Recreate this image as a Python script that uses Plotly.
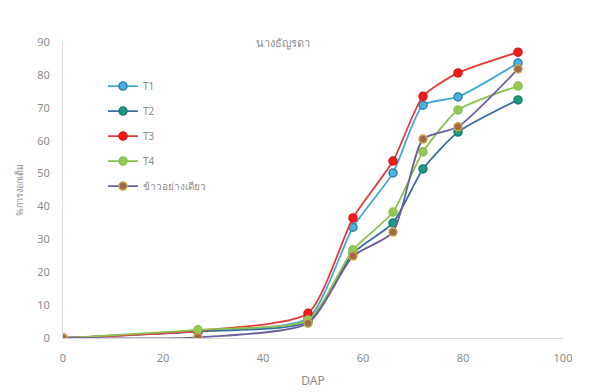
import plotly.graph_objects as go

dap = [0, 27, 49, 58, 66, 72, 79, 91]
series_names = ["T1", "T2", "T3", "T4", "ข้าวอย่างเดียว"]
t1 = [0, 2.0, 6.0, 33.7, 50.2, 70.8, 73.3, 83.6]
t2 = [0, 2.0, 5.0, 25.8, 35.0, 51.4, 62.6, 72.4]
t3 = [0, 2.2, 7.5, 36.5, 53.8, 73.5, 80.6, 86.9]
t4 = [0, 2.5, 5.5, 26.8, 38.3, 56.6, 69.3, 76.6]
ctrl = [0, 0.2, 4.5, 24.9, 32.2, 60.5, 64.2, 81.8]
values = [t1, t2, t3, t4, ctrl]

line_colors = ["#3FA9D6", "#3B6E9E", "#E8393A", "#8CC152", "#6E5E9E"]
marker_fill = ["#4BB3DE", "#1E9A82", "#F01C1C", "#93C955", "#9C6B4E"]
marker_line = ["#2F7FB0", "#17806C", "#E01515", "#8CC152", "#C9A64A"]

fig = go.Figure()
for i, (name, ys) in enumerate(zip(series_names, values)):
    fig.add_trace(go.Scatter(
        x=dap, y=ys, name=name, mode="lines+markers",
        line=dict(color=line_colors[i], width=1.8, shape="spline", smoothing=0.6),
        marker=dict(size=8, color=marker_fill[i], line=dict(color=marker_line[i], width=1.5)),
        legendgroup=name,
    ))

fig.update_layout(
    width=597, height=392,
    margin=dict(l=63, r=34, t=42, b=54),
    paper_bgcolor="white", plot_bgcolor="white",
    font=dict(family="Noto Sans, DejaVu Sans", size=11, color="#8C8C8C"),
    showlegend=True,
    legend=dict(x=0.08, y=0.9, xanchor="left", yanchor="top",
                bgcolor="rgba(0,0,0,0)", font=dict(size=10, color="#8C8C8C"),
                tracegroupgap=6, itemwidth=30),
    xaxis=dict(range=[0, 100], tickvals=[0, 20, 40, 60, 80, 100], automargin=False,
               showgrid=False, zeroline=False, showline=True, linecolor="#D9D9D9",
               ticks="", ticklabelstandoff=10, tickfont=dict(size=11, color="#8C8C8C"),
               title=dict(text="DAP", font=dict(size=12, color="#8C8C8C"), standoff=12)),
    yaxis=dict(range=[0, 90], tickvals=list(range(0, 91, 10)), automargin=False,
               showgrid=False, zeroline=False, showline=True, linecolor="#D9D9D9",
               ticks="", ticklabelstandoff=10, tickfont=dict(size=11, color="#8C8C8C"),
               title=dict(text="%การงอกเต็ม", font=dict(size=9, color="#8C8C8C"), standoff=12)),
    annotations=[dict(text="นางธัญรดา", x=0.44, y=1.0, xref="paper", yref="paper",
                      xanchor="center", yanchor="middle", showarrow=False,
                      font=dict(size=11, color="#8C8C8C"))],
)

fig.write_html("out.html")
